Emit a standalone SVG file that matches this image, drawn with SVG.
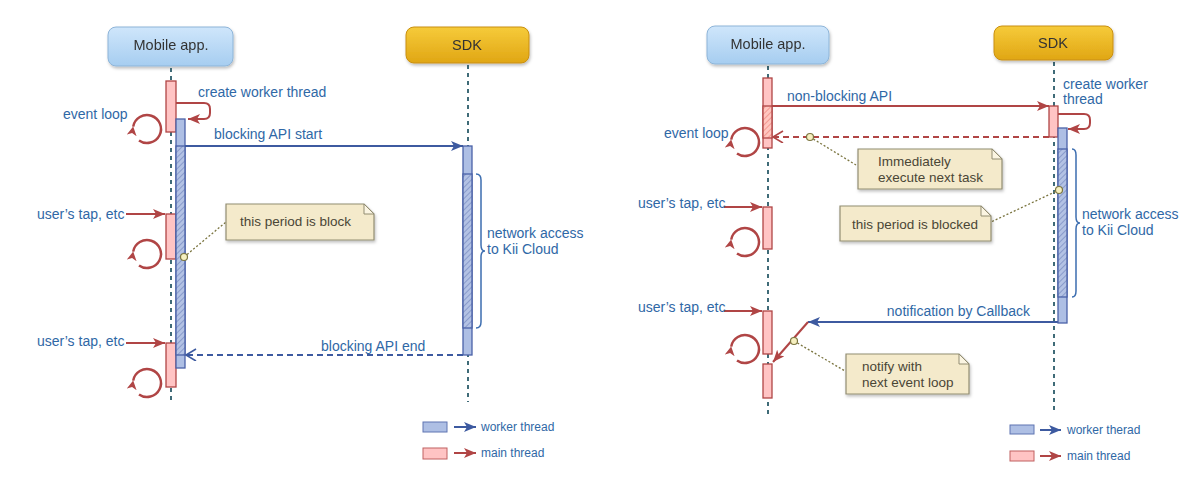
<svg xmlns="http://www.w3.org/2000/svg" width="1184" height="486" viewBox="0 0 1184 486">
<defs>
<linearGradient id="gBlue" x1="0" y1="0" x2="0" y2="1"><stop offset="0" stop-color="#cfe6fb"/><stop offset="1" stop-color="#a6cdf0"/></linearGradient>
<linearGradient id="gGold" x1="0" y1="0" x2="0" y2="1"><stop offset="0" stop-color="#f6cb3a"/><stop offset="1" stop-color="#e0a614"/></linearGradient>
<filter id="sh" x="-10%" y="-10%" width="130%" height="140%"><feDropShadow dx="1" dy="2" stdDeviation="1.5" flood-color="#000" flood-opacity="0.25"/></filter>
<pattern id="hBlue" width="4" height="4" patternUnits="userSpaceOnUse" patternTransform="rotate(45)"><rect width="4" height="4" fill="#b3c2e4"/><line x1="0" y1="0" x2="0" y2="4" stroke="#5f74b2" stroke-width="1"/></pattern>
<pattern id="hRed" width="4" height="4" patternUnits="userSpaceOnUse" patternTransform="rotate(45)"><rect width="4" height="4" fill="#ffc6c0"/><line x1="0" y1="0" x2="0" y2="4" stroke="#e86a60" stroke-width="1"/></pattern>
<marker id="aBlue" markerUnits="userSpaceOnUse" markerWidth="14" markerHeight="12" refX="12" refY="5" orient="auto"><path d="M0,0 L12,5 L0,10 L3,5 Z" fill="#3d5aa0"/></marker>
<marker id="aRed" markerUnits="userSpaceOnUse" markerWidth="14" markerHeight="12" refX="12" refY="5" orient="auto"><path d="M0,0 L12,5 L0,10 L3,5 Z" fill="#b04545"/></marker>
<marker id="oBlue" markerUnits="userSpaceOnUse" markerWidth="14" markerHeight="14" refX="11" refY="6" orient="auto"><path d="M1,0 L11,6 L1,12" fill="none" stroke="#3d5aa0" stroke-width="1.6"/></marker>
<marker id="oRed" markerUnits="userSpaceOnUse" markerWidth="14" markerHeight="14" refX="11" refY="6" orient="auto"><path d="M1,0 L11,6 L1,12" fill="none" stroke="#b04545" stroke-width="1.6"/></marker>
<marker id="aLoop" markerUnits="userSpaceOnUse" markerWidth="12" markerHeight="12" refX="9" refY="5" orient="auto"><path d="M0,0 L9,5 L0,10 L2.5,5 Z" fill="#b04545"/></marker>
</defs>
<style>
text{font-family:"Liberation Sans",Arial,sans-serif;}
.lbl{font-size:14px;fill:#2f68a6;}
.hdr{font-size:14.5px;fill:#333;text-anchor:middle;}
.nt{font-size:13.5px;fill:#4a4636;}
.life{stroke:#3f6b78;stroke-width:2;stroke-dasharray:4 4;fill:none;}
.pink{fill:#ffc4c4;stroke:#b04545;stroke-width:1.3;}
.blue{fill:#aebfe4;stroke:#4a62a8;stroke-width:1.3;}
.hb{fill:url(#hBlue);stroke:#4a62a8;stroke-width:1.3;}
.hr{fill:url(#hRed);stroke:#b04545;stroke-width:1.3;}
.bl{stroke:#3d5aa0;stroke-width:2;fill:none;}
.rd{stroke:#b04545;stroke-width:2;fill:none;}
.loop{stroke:#b04545;stroke-width:2.5;fill:none;}
.note{fill:#f4eacb;stroke:#928d72;stroke-width:1.2;}
.fold{fill:#fbf5e2;stroke:#928d72;stroke-width:1;}
.dot{stroke:#7b7540;stroke-width:1.3;stroke-dasharray:2 2;fill:none;}
.pin{fill:#f6f0c0;stroke:#7b7540;stroke-width:1.2;}
.brace{stroke:#3d6eb0;stroke-width:1.5;fill:none;}
</style>

<!-- LEFT DIAGRAM -->
<g id="mobile-left" filter="url(#sh)">
<rect x="108" y="27" width="125" height="39" rx="8" fill="url(#gBlue)" stroke="#8db4d8"/>
<text class="hdr" x="171" y="50">Mobile app.</text>
</g>
<g id="sdk-left" filter="url(#sh)">
<rect x="406" y="27" width="123" height="36" rx="8" fill="url(#gGold)" stroke="#c98f10"/>
<text class="hdr" x="467" y="50">SDK</text>
</g>

<g id="lifelines">
<line class="life" x1="171" y1="68" x2="171" y2="402"/>
<line class="life" x1="468" y1="65" x2="468" y2="402"/>
<line class="life" x1="768" y1="66" x2="768" y2="414"/>
<line class="life" x1="1054" y1="62" x2="1054" y2="414"/>
</g>

<g id="left-bars">
<rect class="pink" x="166" y="81" width="10" height="51"/>
<rect class="pink" x="166" y="214" width="10" height="45"/>
<rect class="pink" x="166" y="343" width="10" height="44"/>
<rect class="blue" x="176" y="119" width="9" height="249"/>
<rect class="hb" x="176" y="146" width="9" height="209"/>
<rect class="blue" x="463" y="146" width="9" height="209"/>
<rect class="hb" x="463" y="174" width="9" height="154"/>
</g>

<g id="connectors">
<!-- left -->
<path class="rd" d="M176,103 H204 Q210,103 210,109 V113 Q210,119 204,119 H188" marker-end="url(#aRed)"/>
<line class="bl" x1="185" y1="146" x2="463" y2="146" marker-end="url(#aBlue)"/>
<line class="bl" x1="463" y1="355" x2="186" y2="355" stroke-dasharray="6 4" marker-end="url(#oBlue)"/>
<line class="rd" x1="126" y1="214" x2="165" y2="214" marker-end="url(#aRed)"/>
<line class="rd" x1="126" y1="343" x2="165" y2="343" marker-end="url(#aRed)"/>
<!-- right -->
<line class="rd" x1="772" y1="106" x2="1049" y2="106" marker-end="url(#aRed)"/>
<line class="rd" x1="1049" y1="137" x2="773" y2="137" stroke-dasharray="6 4" marker-end="url(#oRed)"/>
<path class="rd" d="M1058,114 H1084 Q1090,114 1090,120 V123 Q1090,129 1084,129 H1068" marker-end="url(#aRed)"/>
<line class="rd" x1="724" y1="207" x2="762" y2="207" marker-end="url(#aRed)"/>
<line class="rd" x1="724" y1="311" x2="762" y2="311" marker-end="url(#aRed)"/>
<line class="bl" x1="1058" y1="322" x2="808" y2="322" marker-end="url(#aBlue)"/>
<line class="rd" x1="808" y1="322" x2="773" y2="362" marker-end="url(#aRed)"/>
</g>

<g id="loops">
<path class="loop" d="M133.2,126.6 A14,14 0 1 1 139,140.5" marker-start="url(#aLoop)"/>
<path class="loop" d="M133.2,251.6 A14,14 0 1 1 139,265.5" marker-start="url(#aLoop)"/>
<path class="loop" d="M133.2,380.6 A14,14 0 1 1 139,394.5" marker-start="url(#aLoop)"/>
<path class="loop" d="M731.2,139.6 A14,14 0 1 1 737,153.5" marker-start="url(#aLoop)"/>
<path class="loop" d="M731.2,239.6 A14,14 0 1 1 737,253.5" marker-start="url(#aLoop)"/>
<path class="loop" d="M731.2,346.6 A14,14 0 1 1 737,360.5" marker-start="url(#aLoop)"/>
</g>

<g id="left-labels">
<text class="lbl" x="198" y="97">create worker thread</text>
<text class="lbl" x="63" y="119">event loop</text>
<text class="lbl" x="214" y="139">blocking API start</text>
<text class="lbl" x="37" y="219">user’s tap, etc</text>
<text class="lbl" x="37" y="346">user’s tap, etc</text>
<text class="lbl" x="321" y="351">blocking API end</text>
<text class="lbl" x="487" y="238">network access</text>
<text class="lbl" x="487" y="254">to Kii Cloud</text>
<path class="brace" d="M476,174 Q481,174 481,180 V245 Q481,251 485,251 Q481,251 481,257 V322 Q481,328 476,328"/>
</g>

<g id="note-left-block">
<line class="dot" x1="184" y1="257" x2="226" y2="222"/>
<circle class="pin" cx="184" cy="257" r="3.5"/>
<path class="note" filter="url(#sh)" d="M226,204 H364 L374,214 V240 H226 Z"/>
<path class="fold" d="M364,204 V214 H374 Z"/>
<text class="nt" x="240" y="226">this period is block</text>
</g>

<g id="legend-left">
<rect x="423" y="422" width="24" height="10" fill="#aebfe4" stroke="#5f74b2"/>
<line class="bl" x1="454" y1="427" x2="476" y2="427" marker-end="url(#aBlue)"/>
<text class="lbl" x="481" y="431" style="font-size:12px">worker thread</text>
<rect x="423" y="448" width="24" height="11" fill="#ffc4c4" stroke="#c06060"/>
<line class="rd" x1="454" y1="453" x2="476" y2="453" marker-end="url(#aRed)"/>
<text class="lbl" x="481" y="457" style="font-size:12px">main thread</text>
</g>

<!-- RIGHT DIAGRAM -->
<g id="mobile-right" filter="url(#sh)">
<rect x="707" y="26" width="122" height="38" rx="8" fill="url(#gBlue)" stroke="#8db4d8"/>
<text class="hdr" x="768" y="49">Mobile app.</text>
</g>
<g id="sdk-right" filter="url(#sh)">
<rect x="994" y="26" width="119" height="34" rx="8" fill="url(#gGold)" stroke="#c98f10"/>
<text class="hdr" x="1053" y="48">SDK</text>
</g>

<g id="right-bars">
<rect class="pink" x="763" y="78" width="9" height="70"/>
<rect class="hr" x="763" y="106" width="9" height="32"/>
<rect class="pink" x="763" y="207" width="9" height="42"/>
<rect class="pink" x="763" y="311" width="9" height="43"/>
<rect class="pink" x="763" y="364" width="9" height="34"/>
<rect class="pink" x="1049" y="106" width="9" height="31"/>
<rect class="blue" x="1058" y="128" width="9" height="195"/>
<rect class="hb" x="1058" y="149" width="9" height="148"/>
</g>

<g id="right-labels">
<text class="lbl" x="787" y="101">non-blocking API</text>
<text class="lbl" x="1063" y="89">create worker</text>
<text class="lbl" x="1063" y="104">thread</text>
<text class="lbl" x="664" y="138">event loop</text>
<text class="lbl" x="638" y="208">user’s tap, etc</text>
<text class="lbl" x="638" y="312">user’s tap, etc</text>
<text class="lbl" x="1030" y="316" text-anchor="end">notification by Callback</text>
<text class="lbl" x="1082" y="219">network access</text>
<text class="lbl" x="1082" y="235">to Kii Cloud</text>
<path class="brace" d="M1072,149 Q1076,149 1076,155 V217 Q1076,223 1080,223 Q1076,223 1076,229 V291 Q1076,297 1072,297"/>
</g>

<g id="note-right-immediately">
<line class="dot" x1="810" y1="137" x2="856" y2="165"/>
<circle class="pin" cx="810" cy="137" r="3.5"/>
<path class="note" filter="url(#sh)" d="M858,149 H992 L1002,159 V189 H858 Z"/>
<path class="fold" d="M992,149 V159 H1002 Z"/>
<text class="nt" x="878" y="166">Immediately</text>
<text class="nt" x="878" y="182">execute next task</text>
</g>

<g id="note-right-blocked">
<line class="dot" x1="1059" y1="190" x2="991" y2="222"/>
<circle class="pin" cx="1059" cy="190" r="3.5"/>
<path class="note" filter="url(#sh)" d="M840,206 H981 L991,216 V241 H840 Z"/>
<path class="fold" d="M981,206 V216 H991 Z"/>
<text class="nt" x="852" y="229">this period is blocked</text>
</g>

<g id="note-right-notify">
<line class="dot" x1="794" y1="341" x2="845" y2="371"/>
<circle class="pin" cx="794" cy="341" r="3.5"/>
<path class="note" filter="url(#sh)" d="M846,354 H959 L969,364 V394 H846 Z"/>
<path class="fold" d="M959,354 V364 H969 Z"/>
<text class="nt" x="862" y="371">notify with</text>
<text class="nt" x="862" y="387">next event loop</text>
</g>

<g id="legend-right">
<rect x="1010" y="425" width="24" height="9" fill="#aebfe4" stroke="#5f74b2"/>
<line class="bl" x1="1040" y1="430" x2="1061" y2="430" marker-end="url(#aBlue)"/>
<text class="lbl" x="1067" y="434" style="font-size:12px">worker therad</text>
<rect x="1010" y="451" width="24" height="10" fill="#ffc4c4" stroke="#c06060"/>
<line class="rd" x1="1040" y1="456" x2="1061" y2="456" marker-end="url(#aRed)"/>
<text class="lbl" x="1067" y="460" style="font-size:12px">main thread</text>
</g>
</svg>
